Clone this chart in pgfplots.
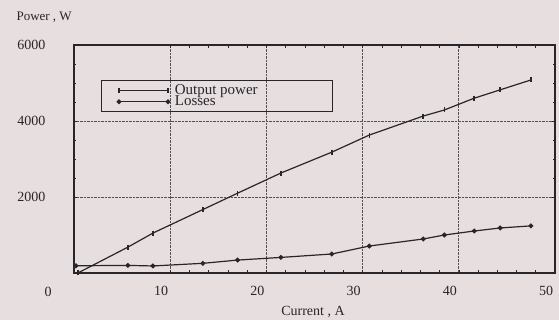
\documentclass[border=0pt]{standalone}
\usepackage{pgfplots}
\pgfplotsset{compat=1.18}
\usepackage{fontspec}
\setmainfont{Liberation Serif}
\definecolor{paper}{RGB}{231,222,223}
\definecolor{ink}{RGB}{40,38,42}
\begin{document}
\begin{tikzpicture}
\fill[paper] (0pt,0pt) rectangle (559pt,-320pt);
\begin{axis}[
  at={(74pt,-273pt)}, anchor=south west,
  scale only axis, width=481pt, height=228pt,
  xmin=0, xmax=50, ymin=0, ymax=6000,
  xtick={10,20,30,40,50}, ytick={2000,4000,6000},
  minor x tick num=4, minor y tick num=3,
  tick align=inside, major tick length=3pt, minor tick length=2.5pt,
  every tick/.style={ink, line width=0.6pt},
  axis line style={ink, line width=1.1pt},
  grid=major,
  major grid style={ink!80, densely dotted, line width=0.7pt},
  font=\fontsize{14}{14}\selectfont,
  /pgf/number format/assume math mode=true,
  /pgf/number format/set thousands separator={},
  xticklabel style={yshift=-10pt, xshift=-9pt, text=ink},
  yticklabel style={xshift=-25pt, text=ink},
  legend cell align=left,
  legend style={at={(0.056,0.846)}, anchor=north west, draw=ink, line width=1pt,
     fill=none, inner xsep=2pt, inner ysep=2pt, row sep=-4pt, column sep=3pt,
     font=\fontsize{15}{15}\selectfont, text=ink},
  legend image code/.code={\path (0pt,0pt); \draw[#1] plot coordinates {(15pt,0pt) (64pt,0pt)};},
]
\addplot[ink, line width=1.2pt, mark=|, mark size=2.5pt, mark options={line width=1.6pt}] coordinates {
 (0.4,0) (5.6,680) (8.2,1050) (13.4,1670) (17.0,2100) (21.5,2630) (26.8,3180)
 (30.7,3630) (36.3,4130) (38.5,4290) (41.6,4600) (44.3,4820) (47.5,5080)};
\addlegendentry{\makebox[154pt][l]{Output power}}
\addplot[ink, line width=1.2pt, mark=*, mark size=1.8pt] coordinates {
 (0.2,190) (5.6,200) (8.2,185) (13.4,255) (17.0,340) (21.5,410) (26.8,500)
 (30.7,710) (36.3,895) (38.5,1000) (41.6,1105) (44.3,1185) (47.5,1240)};
\addlegendentry{\makebox[154pt][l]{Losses}}
\end{axis}
\node[text=ink, font=\fontsize{14}{14}\selectfont] at (48pt,-292pt) {0};
\node[anchor=west, text=ink, font=\fontsize{13}{14}\selectfont] at (13pt,-17pt) {Power , W};
\node[text=ink, font=\fontsize{14}{14}\selectfont] at (313pt,-312pt) {Current , A};
\end{tikzpicture}
\end{document}
